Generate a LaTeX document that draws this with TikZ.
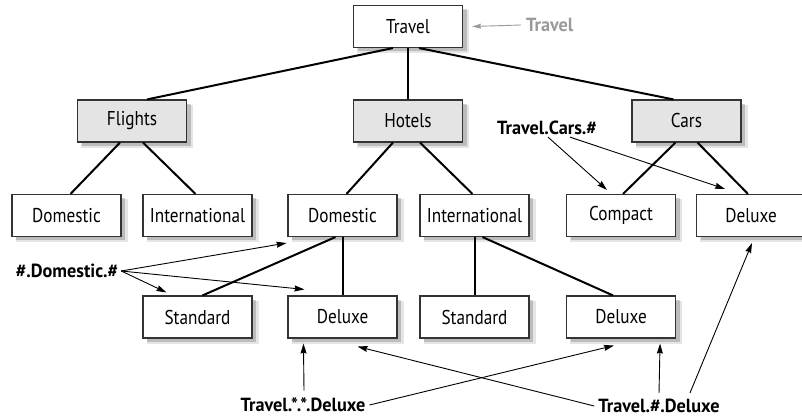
\documentclass[tikz,border=0pt]{standalone}
\usepackage{fontspec}
\setmainfont[FakeStretch=0.86]{PT Sans}
\newfontfamily\lblfont[FakeStretch=0.96]{PT Sans}
\usetikzlibrary{arrows.meta,shadows,calc}
\definecolor{boxline}{HTML}{333333}
\definecolor{catfill}{HTML}{E4E4E4}
\definecolor{graylbl}{HTML}{9A9A9A}
\tikzset{
  softshadow/.style={
    general shadow={shadow xshift=5pt,shadow yshift=-5pt,fill=black,opacity=0.10,shadow scale=1.03},
    general shadow={shadow xshift=4pt,shadow yshift=-4pt,fill=black,opacity=0.18}},
  box/.style={rectangle,draw=boxline,line width=1.1pt,fill=white,minimum width=109pt,minimum height=42pt,inner sep=0pt,
    font=\fontsize{20}{24}\selectfont,softshadow},
  catbox/.style={box,fill=catfill},
  tree/.style={line width=2pt,black},
  pattern/.style={font=\lblfont\fontsize{19}{22}\selectfont\bfseries,inner sep=1pt},
  ptr/.style={line width=0.9pt,-{Stealth[length=10pt,width=6pt,inset=1pt]}},
}
\begin{document}
\begin{tikzpicture}[x=1pt,y=-1pt]
\useasboundingbox (0,0) rectangle (802,419);
% level 1
\node[box] (travel) at (408,26.5) {Travel};
% level 2
\node[catbox] (flights) at (132,121) {Flights};
\node[catbox] (hotels) at (408,121) {Hotels};
\node[catbox] (cars) at (686.5,121) {Cars};
% level 3
\node[box] (fd) at (66.5,215.5) {Domestic};
\node[box] (fi) at (197.5,215.5) {International};
\node[box] (hd) at (342.5,215.5) {Domestic};
\node[box] (hi) at (474.5,215.5) {International};
\node[box] (cc) at (621,215.5) {Compact};
\node[box] (cd) at (751,215.5) {Deluxe};
% level 4
\node[box] (hs) at (197.5,317) {Standard};
\node[box] (hdx) at (342.5,317) {Deluxe};
\node[box] (is) at (474.5,317) {Standard};
\node[box] (idx) at (621,317) {Deluxe};
% tree connectors
\draw[tree] ([xshift=-15pt]travel.south) -- ([xshift=15pt]flights.north);
\draw[tree] (travel.south) -- (hotels.north);
\draw[tree] ([xshift=11pt]travel.south) -- ([xshift=-13pt]cars.north);
\draw[tree] ([xshift=-12pt]flights.south) -- ([xshift=4pt]fd.north);
\draw[tree] ([xshift=11pt]flights.south) -- ([xshift=-2pt]fi.north);
\draw[tree] ([xshift=-15pt]hotels.south) -- ([xshift=4pt]hd.north);
\draw[tree] ([xshift=12pt]hotels.south) -- ([xshift=-2pt]hi.north);
\draw[tree] ([xshift=-11pt]cars.south) -- ([xshift=2pt]cc.north);
\draw[tree] ([xshift=11pt]cars.south) -- ([xshift=-3pt]cd.north);
\draw[tree] ([xshift=-7pt]hd.south) -- ([xshift=5pt]hs.north);
\draw[tree] (hd.south) -- (hdx.north);
\draw[tree] (hi.south) -- (is.north);
\draw[tree] ([xshift=8pt]hi.south) -- ([xshift=-8pt]idx.north);
% gray label
\node[pattern,text=graylbl,anchor=west] (tlabel) at (525,25) {Travel};
\draw[line width=0.9pt,graylbl,-{Stealth[length=9pt,width=5pt,inset=1pt]}] ([xshift=-4pt]tlabel.west) -- ([xshift=9pt]travel.east);
% pattern labels
\node[pattern] (carsp) at (547,128) {Travel.Cars.\#};
\node[pattern] (domp) at (67,271) {\#.Domestic.\#};
\node[pattern] (stars) at (303,405) {Travel.*.*.Deluxe};
\node[pattern] (hashd) at (659,406) {Travel.\#.Deluxe};
% pattern arrows
\draw[ptr] ($(carsp.south)+(1,1)$) -- ($(cc.north)+(-14,-4)$);
\draw[ptr] ($(carsp.south)+(23,1)$) -- ($(cd.north)+(-26,-5)$);
\draw[ptr] ($(domp.east)+(2,0)$) -- ($(hd.south west)+(-1,6)$);
\draw[ptr] ($(domp.east)+(2,0)$) -- ($(hs.north west)+(24,-3)$);
\draw[ptr] ($(domp.east)+(2,0)$) -- ($(hdx.north west)+(17,-6)$);
\draw[ptr] ($(stars.north)+(1,-6)$) -- ($(hdx.south west)+(16,5)$);
\draw[ptr] ($(stars.east)+(3,0)$) -- ($(idx.south west)+(48,7)$);
\draw[ptr] ($(hashd.west)+(-3,0)$) -- ($(hdx.south east)+(-40,8)$);
\draw[ptr] ($(hashd.north)+(0,-5)$) -- ($(idx.south east)+(-16,5)$);
\draw[ptr] ($(hashd.north)+(31,-5)$) -- ($(cd.south)+(1,6)$);
\end{tikzpicture}
\end{document}
